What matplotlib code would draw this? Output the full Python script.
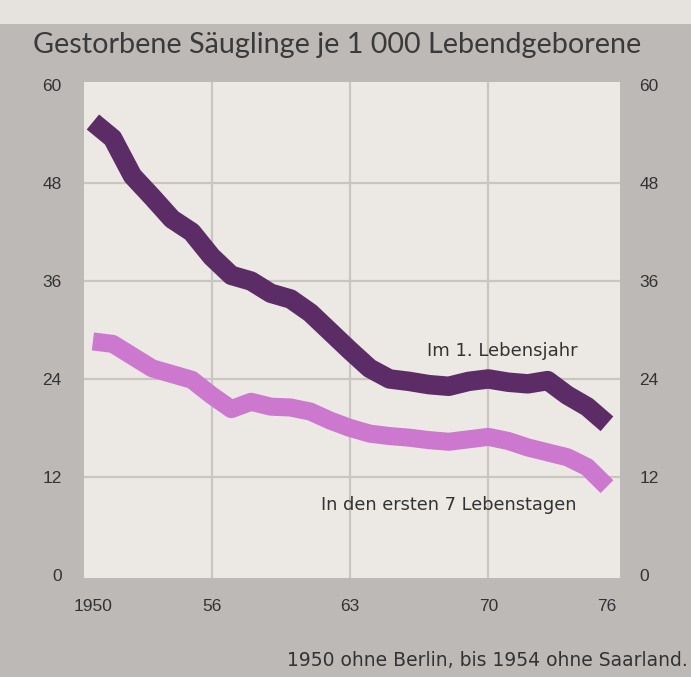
import matplotlib.pyplot as plt
from matplotlib.patches import Rectangle

# Jahre und Werte (je 1 000 Lebendgeborene)
years = list(range(1950, 1977))
im_1_lebensjahr = [55.5, 53.5, 48.9, 46.3, 43.6, 42.0, 39.0, 36.7, 36.0, 34.5,
                   33.8, 32.1, 29.8, 27.5, 25.3, 24.0, 23.7, 23.3, 23.1, 23.7,
                   24.0, 23.6, 23.4, 23.8, 22.0, 20.6, 18.5]
erste_7_tage = [28.6, 28.3, 26.8, 25.3, 24.6, 23.9, 22.0, 20.3, 21.2, 20.6,
                20.5, 20.0, 18.9, 18.0, 17.3, 17.0, 16.8, 16.5, 16.3, 16.6,
                16.9, 16.4, 15.6, 15.0, 14.4, 13.2, 10.8]
x_ticks = [1950, 1956, 1963, 1970, 1976]
x_labels = ['1950', '56', '63', '70', '76']
y_ticks = [0, 12, 24, 36, 48, 60]

bg = '#bdb9b6'
panel = '#ece8e3'
grid = '#c9c5c0'
dark = '#5c2c67'
light = '#cc78cf'
txt = '#333333'

fig = plt.figure(figsize=(6.91, 6.77), dpi=100, facecolor=bg)
# heller Papierrand oben
fig.patches.append(Rectangle((0, 1 - 24/677), 1, 24/677, transform=fig.transFigure,
                             facecolor='#e6e2de', edgecolor='none', zorder=0))

ax = fig.add_axes([84/691, 1 - 578/677, 536/691, 496/677])
ax.set_facecolor(panel)
ax.set_xlim(1949.55, 1976.66)
ax.set_ylim(-0.4, 60.4)

for y in [12, 24, 36, 48]:
    ax.axhline(y, color=grid, lw=1.6, zorder=1)
for x in [1956, 1963, 1970]:
    ax.axvline(x, color=grid, lw=1.6, zorder=1)

ax.plot(years, erste_7_tage, color=light, lw=13, solid_joinstyle='round',
        solid_capstyle='butt', zorder=3)
ax.plot(years, im_1_lebensjahr, color=dark, lw=14, solid_joinstyle='round',
        solid_capstyle='butt', zorder=4)

ax.text(1970.7, 27.4, 'Im 1. Lebensjahr', fontsize=13, family='DejaVu Sans',
        color=txt, ha='center', va='center')
ax.text(1968.0, 8.6, 'In den ersten 7 Lebenstagen', fontsize=12.8, family='DejaVu Sans',
        color=txt, ha='center', va='center')

for s in ax.spines.values():
    s.set_visible(False)
ax.tick_params(length=0)
ax.set_xticks(x_ticks)
ax.set_xticklabels(x_labels, fontsize=12.5, family='Liberation Sans', color=txt)
ax.tick_params(axis='x', pad=15)
ax.set_yticks(y_ticks)
ax.set_yticklabels([str(v) for v in y_ticks], fontsize=12.5, family='Liberation Sans', color=txt)
ax.tick_params(axis='y', pad=16)

# rechte Skala
ax2 = ax.twinx()
ax2.set_ylim(ax.get_ylim())
ax2.set_yticks(y_ticks)
ax2.set_yticklabels([str(v) for v in y_ticks], fontsize=12.5, family='Liberation Sans', color=txt)
ax2.tick_params(length=0, pad=14)
for s in ax2.spines.values():
    s.set_visible(False)

fig.text(33/691, 1 - 45/677, 'Gestorbene Säuglinge je 1 000 Lebendgeborene',
         fontsize=20.7, family='Lato', color='#3a3a3a', va='center', ha='left')
fig.text(1 - 3/691, 1 - 660/677, '1950 ohne Berlin, bis 1954 ohne Saarland.',
         fontsize=13.5, family='DejaVu Sans', color=txt, va='center', ha='right')

fig.savefig('out.png', dpi=100, facecolor=bg)
